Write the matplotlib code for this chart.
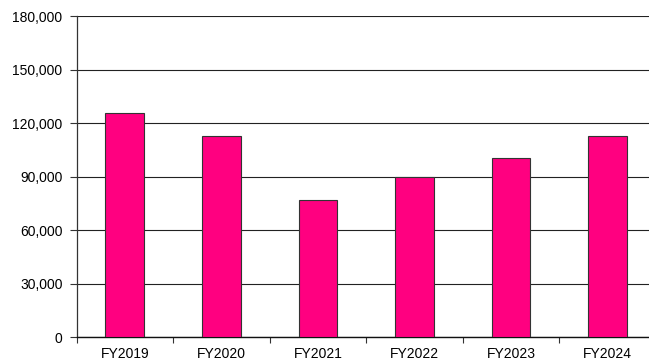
import numpy as np
import matplotlib.pyplot as plt
from matplotlib.ticker import FuncFormatter

plt.rcParams['font.family'] = ['Liberation Sans', 'DejaVu Sans']

years = ['FY2019', 'FY2020', 'FY2021', 'FY2022', 'FY2023', 'FY2024']
values = [125800, 112500, 77000, 90000, 100600, 112500]

W, H = 649, 362
fig = plt.figure(figsize=(W / 100, H / 100), dpi=100)
left, right, top, bottom = 76.5, 656.0, 16.0, 337.3
ax = fig.add_axes([left / W, (H - bottom) / H, (right - left) / W, (bottom - top) / H])

x = np.arange(len(years))
ax.bar(x, values, width=0.4, color='#FF0080', edgecolor='#333333', linewidth=0.8, zorder=3)

ax.set_xlim(-0.5, len(years) - 0.5)
ax.set_ylim(0, 180000)
ax.set_yticks(np.arange(0, 180001, 30000))
ax.yaxis.set_major_formatter(FuncFormatter(lambda v, p: f'{int(v):,}'))
ax.grid(axis='y', color='#222222', linewidth=0.8, zorder=0)

# category boundaries get tick marks, labels sit in the middle
ax.set_xticks(np.arange(-0.5, len(years), 1.0))
ax.set_xticklabels([])
ax.set_xticks(x, minor=True)
ax.set_xticklabels(years, minor=True)
ax.tick_params(axis='x', which='minor', length=0, pad=7, labelsize=10)
ax.tick_params(axis='x', which='major', length=4, width=0.8, color='#333333')
ax.tick_params(axis='y', length=5, width=0.8, color='#333333', labelsize=10, pad=5)

for s in ['top', 'right']:
    ax.spines[s].set_visible(False)
ax.spines['left'].set_color('#333333')
ax.spines['bottom'].set_color('#111111')
ax.spines['left'].set_linewidth(0.9)
ax.spines['bottom'].set_linewidth(1.0)

fig.savefig('out.png', dpi=100)
